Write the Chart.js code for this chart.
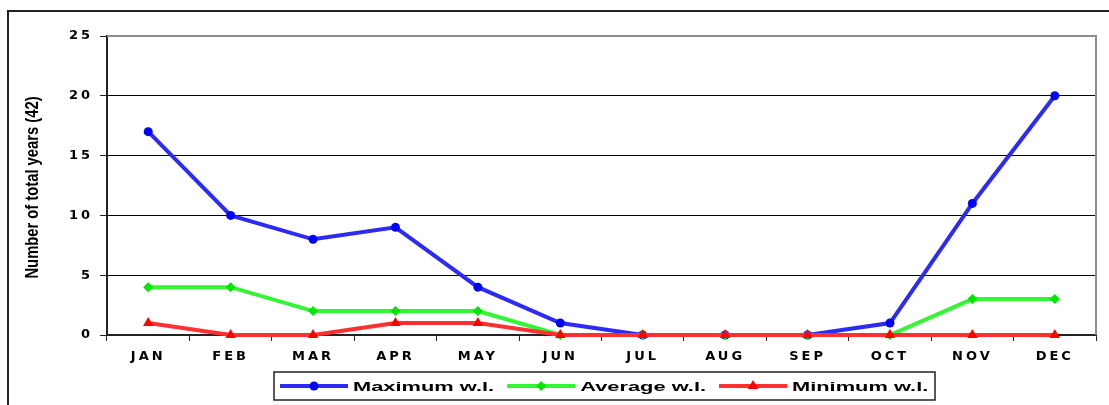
<!DOCTYPE html>
<html lang="en">
<head>
<meta charset="UTF-8">
<title>Number of total years per month</title>
<script src="https://cdn.jsdelivr.net/npm/chart.js"></script>
<style>
  html, body { margin: 0; padding: 0; background: #fff; overflow: hidden; }
  #wrap { position: relative; width: 1109px; height: 405px; }
</style>
</head>
<body>
<div id="wrap"><canvas id="chart" width="1109" height="405"></canvas></div>
<script>
// values
const months = ['JAN', 'FEB', 'MAR', 'APR', 'MAY', 'JUN', 'JUL', 'AUG', 'SEP', 'OCT', 'NOV', 'DEC'];
const maxWl = [17, 10, 8, 9, 4, 1, 0, 0, 0, 1, 11, 20];
const avgWl = [4, 4, 2, 2, 2, 0, 0, 0, 0, 0, 3, 3];
const minWl = [1, 0, 0, 1, 1, 0, 0, 0, 0, 0, 0, 0];
const seriesNames = ['Maximum w.l.', 'Average w.l.', 'Minimum w.l.'];
const yTicks = [0, 5, 10, 15, 20, 25];
const yTitle = 'Number of total years (42)';

const dark = '#222';

function marker(ctx, style, radius, x, y, color) {
  ctx.fillStyle = color;
  ctx.strokeStyle = color;
  if (window.Chart && Chart.helpers && Chart.helpers.drawPoint) {
    Chart.helpers.drawPoint(ctx, { pointStyle: style, radius: radius, rotation: 0, borderWidth: 0 }, x, y);
  } else {
    ctx.beginPath();
    ctx.arc(x, y, radius, 0, Math.PI * 2);
    ctx.fill();
  }
}

// white page + outer frame, and the stretched look of the tick text
const framePlugin = {
  id: 'frame',
  beforeDraw(chart) {
    const ctx = chart.ctx;
    ctx.save();
    ctx.fillStyle = '#fff';
    ctx.fillRect(0, 0, chart.width, chart.height);
    ctx.strokeStyle = dark;
    ctx.lineWidth = 2;
    ctx.strokeRect(8, 11, chart.width + 20, chart.height + 20);
    ctx.restore();
    if ('letterSpacing' in ctx) ctx.letterSpacing = '3px';
  }
};

// grey top / right edge of the plot area
const plotEdge = {
  id: 'plotEdge',
  beforeDatasetsDraw(chart) {
    const { ctx, chartArea: a } = chart;
    ctx.save();
    ctx.strokeStyle = '#8c8c8c';
    ctx.lineWidth = 2;
    ctx.beginPath();
    ctx.moveTo(a.left, a.top);
    ctx.lineTo(a.right, a.top);
    ctx.lineTo(a.right, a.bottom);
    ctx.stroke();
    ctx.restore();
  }
};

// rotated, condensed axis title
const yTitlePlugin = {
  id: 'yTitle',
  afterDraw(chart) {
    const ctx = chart.ctx;
    const a = chart.chartArea;
    ctx.save();
    if ('letterSpacing' in ctx) ctx.letterSpacing = '0px';
    ctx.translate(38, (a.top + a.bottom) / 2 + 2);
    ctx.rotate(-Math.PI / 2);
    ctx.scale(0.82, 1);
    ctx.font = 'bold 18px "Liberation Sans", Arial, sans-serif';
    ctx.fillStyle = '#000';
    ctx.textAlign = 'center';
    ctx.textBaseline = 'alphabetic';
    ctx.fillText(yTitle, 0, 0);
    ctx.restore();
  }
};

// boxed legend at the bottom, line + marker + stretched label
const legendBox = {
  id: 'legendBox',
  afterDraw(chart) {
    const ctx = chart.ctx;
    ctx.save();
    if ('letterSpacing' in ctx) ctx.letterSpacing = '0px';
    ctx.strokeStyle = dark;
    ctx.lineWidth = 1.5;
    ctx.strokeRect(274, 372, 661, 28);
    const cy = 386;
    let x = 280;
    ctx.font = 'bold 13px "Liberation Sans", Arial, sans-serif';
    ctx.textBaseline = 'middle';
    chart.data.datasets.forEach(ds => {
      ctx.strokeStyle = ds.borderColor;
      ctx.lineWidth = 4;
      ctx.beginPath();
      ctx.moveTo(x, cy);
      ctx.lineTo(x + 68, cy);
      ctx.stroke();
      marker(ctx, ds.pointStyle, ds.pointRadius, x + 34, cy, ds.pointBackgroundColor);
      x += 73;
      const w = ctx.measureText(ds.label).width * 1.68;
      ctx.save();
      ctx.translate(x, cy + 1);
      ctx.scale(1.68, 1);
      ctx.fillStyle = '#000';
      ctx.fillText(ds.label, 0, 0);
      ctx.restore();
      x += w + 13;
    });
    ctx.restore();
  }
};

new Chart(document.getElementById('chart'), {
  type: 'line',
  data: {
    labels: months,
    datasets: [
      { label: seriesNames[0], data: maxWl, order: 3, borderColor: '#2b2bf5', pointBackgroundColor: '#0000ff',
        pointBorderColor: '#0000ff', pointStyle: 'circle', pointRadius: 4.5 },
      { label: seriesNames[1], data: avgWl, order: 2, borderColor: '#33f533', pointBackgroundColor: '#00e600',
        pointBorderColor: '#00e600', pointStyle: 'rectRot', pointRadius: 5 },
      { label: seriesNames[2], data: minWl, order: 1, borderColor: '#ff3030', pointBackgroundColor: '#ff0000',
        pointBorderColor: '#ff0000', pointStyle: 'triangle', pointRadius: 6 }
    ]
  },
  options: {
    responsive: false,
    animation: false,
    devicePixelRatio: 1,
    events: [],
    layout: { padding: { left: 0, top: 36, right: 13, bottom: 40 } },
    elements: {
      line: { borderWidth: 4, tension: 0 },
      point: { borderWidth: 0, hoverRadius: 5 }
    },
    datasets: { line: { clip: false } },
    plugins: { legend: { display: false }, tooltip: { enabled: false } },
    scales: {
      x: {
        offset: true,
        grid: { offset: true, drawOnChartArea: false, drawTicks: true, tickLength: 6, tickColor: dark },
        border: { color: dark, width: 2 },
        ticks: { color: '#000', padding: 8, autoSkip: false, maxRotation: 0,
          font: { family: '"DejaVu Sans", sans-serif', size: 13, weight: 'bold' } },
        afterFit: s => { s.height = 30; }
      },
      y: {
        min: 0,
        max: 25,
        afterBuildTicks: s => { s.ticks = yTicks.map(v => ({ value: v })); },
        grid: {
          color: c => (c.tick && c.tick.value === 25) ? 'rgba(0,0,0,0)' : '#000',
          lineWidth: 1, tickLength: 7, tickColor: dark
        },
        border: { color: dark, width: 2 },
        ticks: { color: '#000', padding: 7,
          font: { family: '"DejaVu Sans", sans-serif', size: 13, weight: 'bold' } },
        afterFit: s => { s.width = 107; }
      }
    }
  },
  plugins: [framePlugin, plotEdge, yTitlePlugin, legendBox]
});
</script>
</body>
</html>
